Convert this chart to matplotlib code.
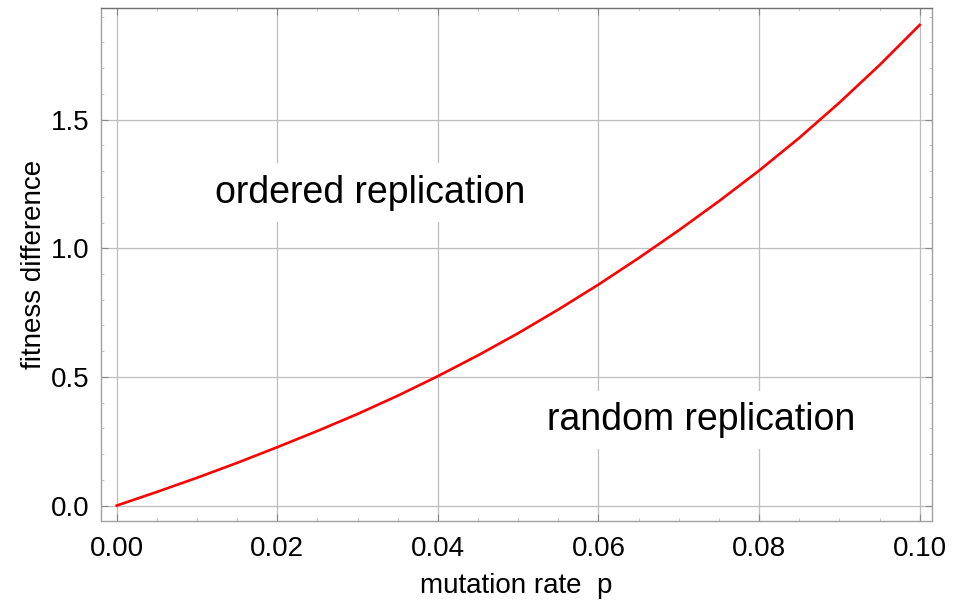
import matplotlib
matplotlib.use("Agg")
import matplotlib.pyplot as plt
from matplotlib.ticker import MultipleLocator

# data
mutation_rate = [0.000, 0.005, 0.010, 0.015, 0.020, 0.025, 0.030, 0.035, 0.040, 0.045,
                 0.050, 0.055, 0.060, 0.065, 0.070, 0.075, 0.080, 0.085, 0.090, 0.095, 0.100]
fitness_diff = [0.000, 0.053, 0.108, 0.166, 0.227, 0.290, 0.356, 0.427, 0.503, 0.584,
                0.670, 0.762, 0.859, 0.962, 1.070, 1.183, 1.302, 1.429, 1.566, 1.712, 1.868]
x_ticks = [0.00, 0.02, 0.04, 0.06, 0.08, 0.10]
x_tick_labels = ["0.00", "0.02", "0.04", "0.06", "0.08", "0.10"]
y_ticks = [0.0, 0.5, 1.0, 1.5]
y_tick_labels = ["0.0", "0.5", "1.0", "1.5"]
region_labels = ["ordered replication", "random replication"]
region_pos = [(0.0315, 1.216), (0.0728, 0.332)]

plt.rcParams['font.family'] = ['Liberation Sans', 'DejaVu Sans']

fig = plt.figure(figsize=(9.61, 6.02), dpi=100)
ax = fig.add_axes([101/961, 81/602, (931.7-101)/961, (521-8)/602])

ax.plot(mutation_rate, fitness_diff, color='#ff0000', lw=1.9, zorder=3,
        solid_joinstyle='round')

ax.set_xlim(-0.00196, 0.1015)
ax.set_ylim(-0.06, 1.934)
ax.set_xticks(x_ticks)
ax.set_xticklabels(x_tick_labels)
ax.set_yticks(y_ticks)
ax.set_yticklabels(y_tick_labels)
ax.xaxis.set_minor_locator(MultipleLocator(0.005))
ax.yaxis.set_minor_locator(MultipleLocator(0.1))

ax.grid(True, which='major', color='#bdbdbd', lw=0.9, zorder=0)
ax.tick_params(which='major', direction='in', length=5, width=0.8, color='#888888',
               labelsize=20, pad=8, top=True, right=True)
ax.tick_params(which='minor', direction='in', length=2.5, width=0.6, color='#bbbbbb',
               top=True, right=True)
ax.tick_params(axis='x', which='major', pad=11)
for s in ax.spines.values():
    s.set_color('#a0a0a0')
    s.set_linewidth(1.0)
ax.spines['top'].set_color('#707070')

ax.set_xlabel("mutation rate  p", fontsize=20, labelpad=8)
ax.set_ylabel("fitness difference", fontsize=20, labelpad=3)

for txt, (px, py) in zip(region_labels, region_pos):
    ax.text(px, py, txt, fontsize=27, ha='center', va='center', zorder=2,
            bbox=dict(boxstyle='square,pad=0.3', fc='white', ec='none'))

fig.savefig("out.png", dpi=100)
